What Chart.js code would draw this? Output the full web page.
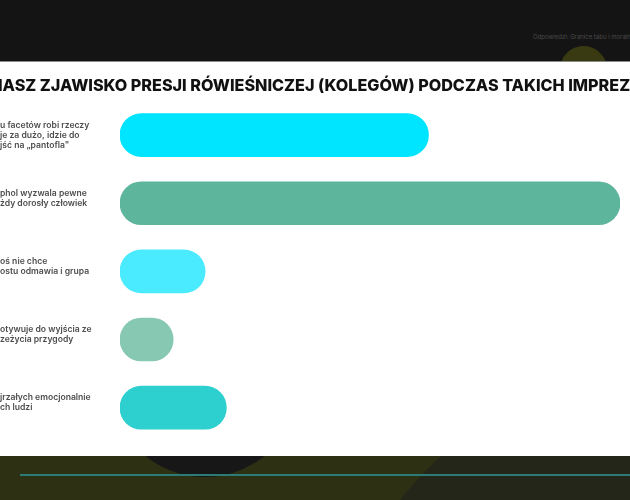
<!DOCTYPE html>
<html>
<head>
<meta charset="utf-8">
<script src="https://cdn.jsdelivr.net/npm/chart.js@4.4.1/dist/chart.umd.min.js"></script>
<style>
  html,body{margin:0;padding:0;width:630px;height:500px;overflow:hidden;background:#141414;font-family:Inter,'Noto Sans',sans-serif;}
  .top{position:absolute;left:0;top:0;width:630px;height:61px;background:#141414;overflow:hidden;}
  .top .note{position:absolute;left:533px;top:33px;font-size:6px;color:#4a4a4a;white-space:nowrap;}
  .top .dot{position:absolute;left:560px;top:46px;width:47px;height:47px;border-radius:50%;background:#3a3a12;}
  .panel{position:absolute;left:0;top:61px;width:630px;height:395px;background:#fff;border-top:1px solid #8a8a8a;box-sizing:border-box;overflow:hidden;}
  .title{position:absolute;left:-2px;top:13px;font-size:16.2px;font-weight:800;color:#111;white-space:nowrap;letter-spacing:-0.02px;}
  .bottom{position:absolute;left:0;top:456px;width:630px;height:44px;background:#2d3012;overflow:hidden;}
  .bottom .blob{position:absolute;left:110px;top:-170px;width:190px;height:191px;border-radius:50%;background:#171717;}
  .bottom .big{position:absolute;left:324px;top:-92px;width:712px;height:712px;border-radius:50%;background:#24261a;}
  .bottom .line{position:absolute;left:20px;top:18px;width:610px;height:2px;background:#2b7c76;}
  #wrap{position:absolute;left:0;top:0;width:630px;height:395px;}
</style>
</head>
<body>
<div class="top">
  <div class="note">Odpowiedzi: Granice tabu i moralno</div>
  <div class="dot"></div>
</div>
<div class="bottom">
  <div class="big"></div>
  <div class="blob"></div>
  <div class="line"></div>
</div>
<div class="panel">
  <div id="wrap"><canvas id="c"></canvas></div>
  <div class="title">IASZ ZJAWISKO PRESJI RÓWIEŚNICZEJ (KOLEGÓW) PODCZAS TAKICH IMPREZ</div>
</div>
<script>
// answers (visible part of each label), share of answers in %
const answers = [
  ['u facetów robi rzeczy', 'je za dużo, idzie do', 'jść na „pantofla"'],
  ['phol wyzwala pewne', 'żdy dorosły człowiek', ''],
  ['oś nie chce', 'ostu odmawia i grupa', ''],
  ['otywuje do wyjścia ze', 'zeżycia przygody', ''],
  ['jrzałych emocjonalnie', 'ch ludzi', '']
];
const shares = [29, 47, 8, 5, 10];
const barColors = ['#00e5ff', '#5db59b', '#4aeaff', '#87c8b2', '#2dcfcf'];

new Chart(document.getElementById('c'), {
  type: 'bar',
  data: {
    labels: answers,
    datasets: [{
      data: shares,
      backgroundColor: barColors,
      borderRadius: 22,
      borderSkipped: false,
      barThickness: 43
    }]
  },
  options: {
    indexAxis: 'y',
    responsive: true,
    maintainAspectRatio: false,
    animation: false,
    layout: { padding: { top: 39, bottom: 6, right: 10, left: 0 } },
    plugins: { legend: { display: false }, tooltip: { enabled: false } },
    scales: {
      x: { display: false, min: 0, max: 47 },
      y: {
        grid: { display: false },
        border: { display: false },
        afterFit: s => { s.width = 120; },
        ticks: {
          crossAlign: 'far',
          padding: 0,
          color: '#4d4d4d',
          font: { family: 'Inter', size: 8.6, weight: 600, lineHeight: 1.18 }
        }
      }
    }
  }
});
</script>
</body>
</html>
